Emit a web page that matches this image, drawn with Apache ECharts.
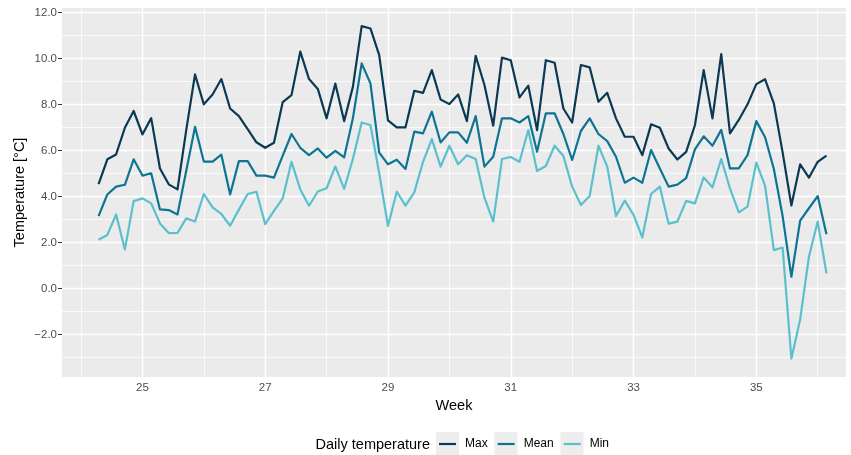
<!DOCTYPE html>
<html>
<head>
<meta charset="utf-8">
<script src="https://cdn.jsdelivr.net/npm/echarts@6/dist/echarts.min.js"></script>
<style>
  html, body { margin: 0; padding: 0; background: #ffffff; }
  #chart { width: 851px; height: 455px; }
</style>
</head>
<body>
<div id="chart"></div>
<script>
// Daily temperatures, one value per day, starting on the third day of week 24
const startWeek = 24;
const startDay = 2;

const maxTemp = [
  4.54, 5.62, 5.83, 6.99, 7.72, 6.70, 7.41, 5.22, 4.53, 4.31,
  6.90, 9.31, 8.01, 8.44, 9.11, 7.83, 7.50, 6.93, 6.36, 6.12,
  6.34, 8.11, 8.41, 10.30, 9.11, 8.68, 7.40, 8.91, 7.28, 8.77,
  11.41, 11.31, 10.15, 7.31, 7.01, 7.01, 8.60, 8.51, 9.50, 8.22,
  8.02, 8.44, 7.28, 10.12, 8.85, 7.08, 10.04, 9.93, 8.31, 8.82,
  6.89, 9.93, 9.82, 7.83, 7.22, 9.72, 9.62, 8.12, 8.51, 7.40,
  6.60, 6.60, 5.80, 7.14, 6.99, 6.09, 5.61, 5.94, 7.10, 9.50,
  7.40, 10.19, 6.75, 7.33, 8.01, 8.89, 9.10, 8.05, 5.92, 3.61,
  5.40, 4.82, 5.51, 5.78
];

const meanTemp = [
  3.15, 4.09, 4.43, 4.51, 5.62, 4.91, 5.01, 3.44, 3.41, 3.22,
  5.12, 7.03, 5.52, 5.52, 5.82, 4.09, 5.54, 5.54, 4.91, 4.91,
  4.82, 5.78, 6.72, 6.12, 5.80, 6.09, 5.69, 5.99, 5.70, 7.40,
  9.79, 8.92, 5.91, 5.40, 5.60, 5.20, 6.82, 6.75, 7.69, 6.35,
  6.79, 6.79, 6.34, 7.50, 5.30, 5.73, 7.40, 7.40, 7.22, 7.50,
  5.95, 7.62, 7.62, 6.72, 5.59, 6.85, 7.40, 6.72, 6.41, 5.73,
  4.60, 4.82, 4.60, 6.02, 5.22, 4.43, 4.52, 4.80, 6.05, 6.62,
  6.21, 6.90, 5.22, 5.22, 5.80, 7.28, 6.58, 5.20, 3.15, 0.51,
  2.95, 3.49, 4.02, 2.36
];

const minTemp = [
  2.12, 2.33, 3.22, 1.70, 3.80, 3.92, 3.70, 2.83, 2.41, 2.42,
  3.05, 2.91, 4.11, 3.53, 3.24, 2.73, 3.43, 4.11, 4.21, 2.80,
  3.38, 3.92, 5.51, 4.31, 3.60, 4.22, 4.36, 5.31, 4.33, 5.63,
  7.22, 7.11, 5.01, 2.72, 4.21, 3.60, 4.18, 5.51, 6.50, 5.30,
  6.21, 5.40, 5.80, 5.63, 3.95, 2.91, 5.63, 5.72, 5.51, 6.89,
  5.11, 5.33, 6.21, 5.76, 4.43, 3.63, 4.02, 6.21, 5.30, 3.15,
  3.82, 3.20, 2.22, 4.11, 4.43, 2.82, 2.91, 3.81, 3.70, 4.83,
  4.40, 5.63, 4.35, 3.31, 3.56, 5.48, 4.46, 1.67, 1.78, -3.05,
  -1.35, 1.38, 2.91, 0.66
];

const seriesNames = ['Max', 'Mean', 'Min'];
const seriesColors = ['#0A3A53', '#0D7593', '#5BC0CD'];

const weekLabels = [25, 27, 29, 31, 33, 35];
const weekMinor = [24, 26, 28, 30, 32, 34, 36];
const tempLabels = [-2, 0, 2, 4, 6, 8, 10, 12];
const tempMinor = [-3, -1, 1, 3, 5, 7, 9, 11];

const FONT = '"Liberation Sans", Arial, Helvetica, sans-serif';

// position of each day on the week axis
const weekPos = maxTemp.map((_, i) => startWeek + (startDay + i) / 7);
const pairs = (vals) => vals.map((v, i) => [weekPos[i], v]);

const gridLines = [].concat(
  weekMinor.map(v => ({ xAxis: v, lineStyle: { width: 0.75 } })),
  tempMinor.map(v => ({ yAxis: v, lineStyle: { width: 0.75 } })),
  weekLabels.map(v => ({ xAxis: v, lineStyle: { width: 1.4 } })),
  tempLabels.map(v => ({ yAxis: v, lineStyle: { width: 1.4 } }))
);

const chart = echarts.init(document.getElementById('chart'), null, { renderer: 'canvas' });

const lineSeries = [maxTemp, meanTemp, minTemp].map((vals, k) => ({
  name: seriesNames[k],
  type: 'line',
  data: pairs(vals),
  showSymbol: false,
  symbol: 'none',
  z: 3,
  color: seriesColors[k],
  lineStyle: { width: 2.2, color: seriesColors[k], join: 'round', cap: 'butt' },
  emphasis: { disabled: true },
  animation: false
}));

// legend key backgrounds sit behind the legend line icons
const keyLeft = [436, 494.5, 560.5];

chart.setOption({
  animation: false,
  backgroundColor: '#ffffff',
  grid: {
    left: 62, right: 5, top: 8, bottom: 78,
    show: true, backgroundColor: '#EBEBEB', borderWidth: 0
  },
  xAxis: {
    type: 'value',
    min: 23.69, max: 36.461,
    axisLine: { show: false },
    splitLine: { show: false },
    axisTick: { show: true, length: 4, lineStyle: { color: '#333333', width: 1 }, customValues: weekLabels },
    axisLabel: { customValues: weekLabels, color: '#4D4D4D', fontSize: 11.5, fontFamily: FONT, margin: 5 },
    name: 'Week', nameLocation: 'middle', nameGap: 19,
    nameTextStyle: { color: '#000000', fontSize: 14.5, fontFamily: FONT }
  },
  yAxis: {
    type: 'value',
    min: -3.85, max: 12.2,
    axisLine: { show: false },
    splitLine: { show: false },
    axisTick: { show: true, length: 4, lineStyle: { color: '#333333', width: 1 }, customValues: tempLabels },
    axisLabel: {
      customValues: tempLabels, color: '#4D4D4D', fontSize: 11.5, fontFamily: FONT, margin: 5,
      formatter: v => (v < 0 ? '\u2212' : '') + Math.abs(v).toFixed(1)
    },
    name: 'Temperature [\u00B0C]', nameLocation: 'middle', nameGap: 35, nameRotate: 90,
    nameMoveOverlap: false,
    nameTextStyle: { color: '#000000', fontSize: 14.5, fontFamily: FONT }
  },
  legend: {
    data: seriesNames,
    orient: 'horizontal',
    left: 439, top: 438,
    icon: 'rect',
    itemWidth: 17, itemHeight: 2.2,
    itemGap: 10,
    padding: 0,
    textStyle: { color: '#000000', fontSize: 12, fontFamily: FONT, padding: [0, 0, 0, 4] },
    selectedMode: false
  },
  graphic: keyLeft.map(x => ({
    type: 'rect', left: x, top: 432, shape: { width: 23, height: 23 },
    style: { fill: '#EDEDED' }, z: -1, silent: true
  })).concat([{
    type: 'text', right: 851 - 430, top: 437, silent: true,
    style: { text: 'Daily temperature', fill: '#000000', font: '14.5px ' + FONT }
  }]),
  series: [{
    type: 'line',
    data: [],
    z: 1,
    silent: true,
    markLine: {
      silent: true,
      z: 1,
      symbol: ['none', 'none'],
      label: { show: false },
      emphasis: { disabled: true },
      animation: false,
      lineStyle: { color: '#FFFFFF', type: 'solid', width: 1 },
      data: gridLines
    }
  }].concat(lineSeries)
});
</script>
</body>
</html>
